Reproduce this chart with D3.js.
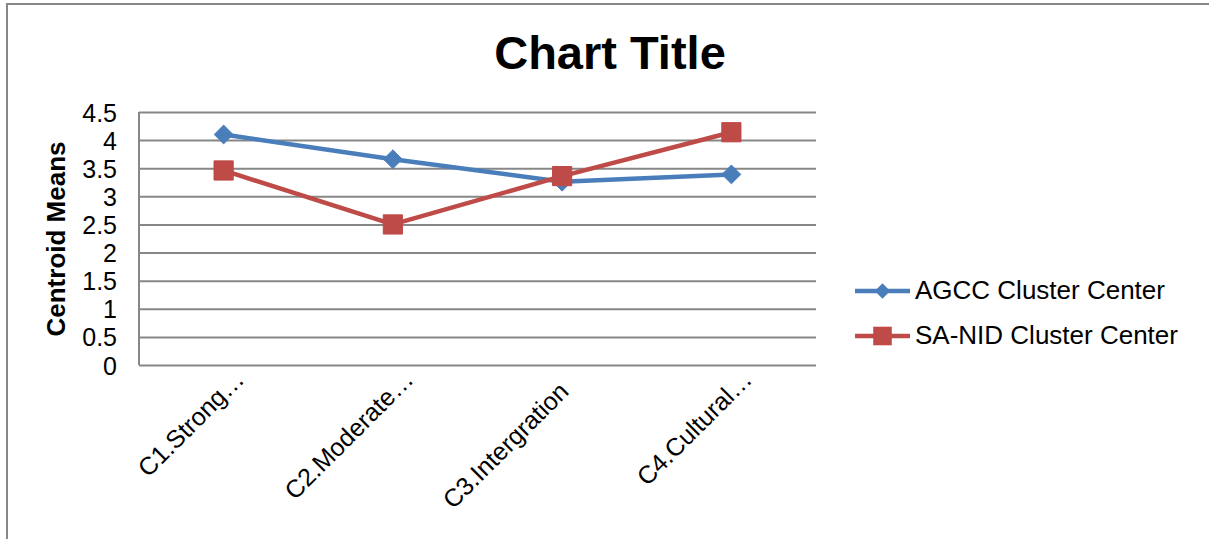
<!DOCTYPE html>
<html>
<head>
<meta charset="utf-8">
<script src="https://cdn.jsdelivr.net/npm/d3@7"></script>
<style>
	body { margin: 0; background: #fff; }
	svg { display: block; font-family: "Liberation Sans", Arial, sans-serif; }
</style>
</head>
<body>
<script>
// chart data
const categories = ["C1.Strong…", "C2.Moderate…", "C3.Intergration", "C4.Cultural…"];
const agccValues = [4.10, 3.66, 3.26, 3.39];
const sanidValues = [3.46, 2.50, 3.36, 4.14];
const yTicks = [0, 0.5, 1, 1.5, 2, 2.5, 3, 3.5, 4, 4.5];
const seriesNames = ["AGCC Cluster Center", "SA-NID Cluster Center"];

const render = () => {
	// size of the window and the plot area
	let w = 1209;
	let h = 539;
	let left = 139;
	let top = 112;
	let pw = 677;
	let ph = 253;

	const blue = "#4a7ebb";
	const red = "#be4b48";
	const grid = "#878787";

	const svg = d3.select("body")
		.append("svg")
		.attr("width", w)
		.attr("height", h);

	// outer chart border (runs off the right and bottom edges)
	svg.append("rect")
		.attr("x", 7)
		.attr("y", 4)
		.attr("width", w + 50)
		.attr("height", h + 50)
		.attr("fill", "none")
		.attr("stroke", "#888")
		.attr("stroke-width", 2);

	// scales
	const xScale = d3.scaleBand()
		.domain(categories)
		.range([left, left + pw]);

	const yScale = d3.scaleLinear()
		.domain([0, 4.5])
		.range([top + ph, top]);

	const cx = (d) => xScale(d) + xScale.bandwidth() / 2;

	// title
	svg.append("text")
		.text("Chart Title")
		.attr("x", 610)
		.attr("y", 69)
		.attr("text-anchor", "middle")
		.style("font-weight", "bold")
		.style("font-size", "47px")
		.attr("fill", "#000");

	// y axis with gridlines
	const yAxis = d3.axisLeft(yScale)
		.tickValues(yTicks)
		.tickSize(-pw)
		.tickPadding(22)
		.tickFormat((d) => d);

	const gy = svg.append("g")
		.attr("transform", "translate(" + left + ", 0)")
		.call(yAxis);

	gy.select(".domain").remove();
	gy.selectAll(".tick line")
		.attr("stroke", grid)
		.attr("stroke-width", 2);
	gy.selectAll(".tick text")
		.attr("fill", "#000")
		.style("font-size", "25px")
		.attr("dy", "0.36em");

	// left edge of the plot area
	svg.append("line")
		.attr("x1", left)
		.attr("x2", left)
		.attr("y1", yScale(4.5))
		.attr("y2", yScale(0))
		.attr("stroke", grid)
		.attr("stroke-width", 2);

	// y axis title
	svg.append("text")
		.text("Centroid Means")
		.attr("transform", "translate(65, 239) rotate(-90)")
		.attr("text-anchor", "middle")
		.style("font-weight", "bold")
		.style("font-size", "26px")
		.attr("fill", "#000");

	// x axis labels, rotated
	const xAxis = d3.axisBottom(xScale).tickSize(0).tickPadding(0);
	const gx = svg.append("g")
		.attr("transform", "translate(0, " + (top + ph) + ")")
		.call(xAxis);
	gx.select(".domain").remove();
	gx.selectAll(".tick text")
		.attr("fill", "#000")
		.style("font-size", "25px")
		.attr("text-anchor", "end")
		.attr("dy", 0)
		.attr("y", 0)
		.attr("transform", (d) => d.endsWith("…")
			? "translate(22, 16) rotate(-45)"
			: "translate(8, 28) rotate(-45)");

	// series lines and markers
	const line = d3.line()
		.x((d, i) => cx(categories[i]))
		.y((d) => yScale(d));

	svg.append("path")
		.datum(agccValues)
		.attr("d", line)
		.attr("fill", "none")
		.attr("stroke", blue)
		.attr("stroke-width", 4.5)
		.attr("stroke-linejoin", "round");

	svg.append("path")
		.datum(sanidValues)
		.attr("d", line)
		.attr("fill", "none")
		.attr("stroke", red)
		.attr("stroke-width", 4.5)
		.attr("stroke-linejoin", "round");

	const diamond = d3.symbol().type(d3.symbolDiamond2).size(225);
	const square = d3.symbol().type(d3.symbolSquare2).size(470);

	svg.selectAll(".agcc")
		.data(agccValues)
		.enter()
		.append("path")
		.attr("class", "agcc")
		.attr("d", diamond)
		.attr("transform", (d, i) => "translate(" + cx(categories[i]) + "," + yScale(d) + ")")
		.attr("fill", blue)
		.attr("stroke", blue)
		.attr("stroke-width", 1);

	svg.selectAll(".sanid")
		.data(sanidValues)
		.enter()
		.append("path")
		.attr("class", "sanid")
		.attr("d", square)
		.attr("transform", (d, i) => "translate(" + cx(categories[i]) + "," + yScale(d) + ")")
		.attr("fill", red)
		.attr("stroke", red)
		.attr("stroke-width", 1);

	// legend
	const legend = svg.append("g").attr("transform", "translate(855, 291)");
	const colors = [blue, red];
	const symbols = [d3.symbol().type(d3.symbolDiamond2).size(150), d3.symbol().type(d3.symbolSquare2).size(440)];

	seriesNames.forEach((name, i) => {
		const row = legend.append("g").attr("transform", "translate(0, " + i * 45 + ")");
		row.append("line")
			.attr("x1", 0)
			.attr("x2", 55)
			.attr("stroke", colors[i])
			.attr("stroke-width", 4.5);
		row.append("path")
			.attr("d", symbols[i])
			.attr("transform", "translate(27.5, 0)")
			.attr("fill", colors[i]);
		row.append("text")
			.text(name)
			.attr("x", 60)
			.attr("y", 8)
			.style("font-size", "26px")
			.attr("fill", "#000");
	});
};

render();
</script>
</body>
</html>
